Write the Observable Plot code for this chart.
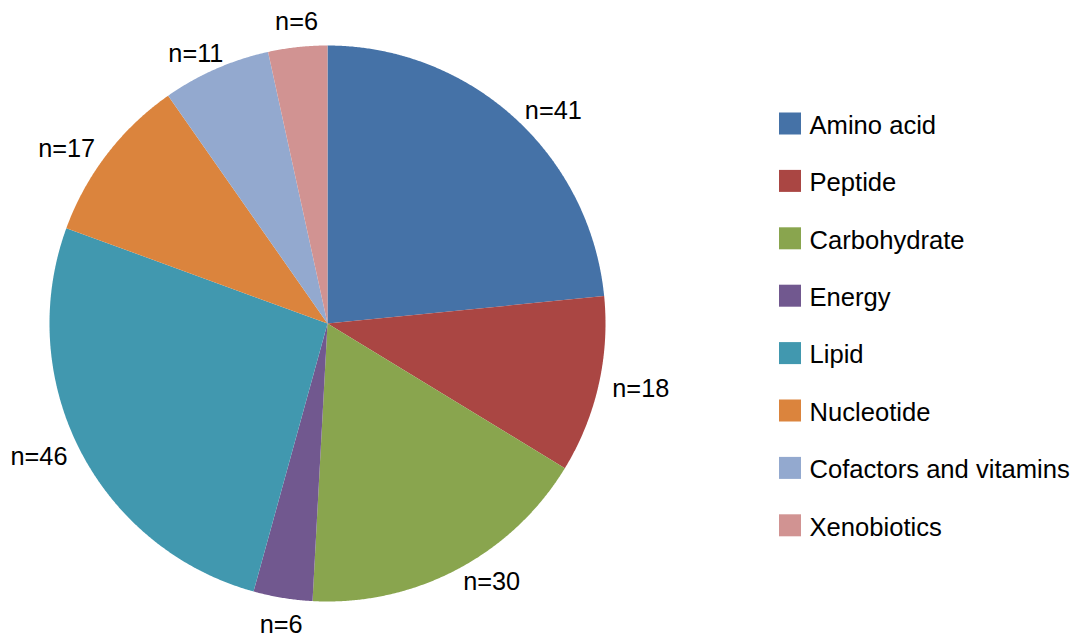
<!DOCTYPE html>
<html>
<head>
<meta charset="utf-8">
<script src="https://cdn.jsdelivr.net/npm/d3@7"></script>
<script src="https://cdn.jsdelivr.net/npm/@observablehq/plot@0.6"></script>
<style>
  html, body { margin: 0; padding: 0; background: #fff; }
  #chart svg { display: block; }
</style>
</head>
<body>
<div id="chart"></div>
<script>
// ---- Data ----
const categories = ["Amino acid", "Peptide", "Carbohydrate", "Energy", "Lipid", "Nucleotide", "Cofactors and vitamins", "Xenobiotics"];
const counts = [41, 18, 30, 6, 46, 17, 11, 6];
const colors = ["#4572A7", "#AA4643", "#89A54E", "#71588F", "#4198AF", "#DB843D", "#93A9CF", "#D19392"];

// ---- Layout ----
const W = 1073, H = 636;
const cx = 327, cy = 323, r = 278;
const fontFamily = "'Liberation Sans', Arial, Helvetica, sans-serif";
const fontSize = 25.3;

const pie = d3.pie().sort(null).value(d => d)(counts);

// slice polygons (in pixel-like data space)
const slicePts = [];
pie.forEach((p, i) => {
  const name = categories[i];
  slicePts.push({name, x: cx, y: cy});
  const n = Math.max(2, Math.ceil((p.endAngle - p.startAngle) / 0.005));
  for (let k = 0; k <= n; k++) {
    const a = p.startAngle + (p.endAngle - p.startAngle) * k / n;
    slicePts.push({name, x: cx + r * Math.sin(a), y: cy - r * Math.cos(a)});
  }
  slicePts.push({name, x: cx, y: cy});
});

// label positions: anchor on the bisector just outside the rim, box pushed outward
const ctx = document.createElement("canvas").getContext("2d");
ctx.font = `${fontSize}px ${fontFamily}`;
const smooth = (t) => { t = Math.max(0, Math.min(1, t)); return t * t * (3 - 2 * t); };
const labels = pie.map((p, i) => {
  const a = (p.startAngle + p.endAngle) / 2;
  const s = Math.sin(a), c = -Math.cos(a);
  const text = "n=" + counts[i];
  const w = ctx.measureText(text).width;
  const R = r + 10;
  const ox = Math.sign(s) * (w / 2 + 4) * smooth((Math.abs(s) - 0.3) / 0.2);
  const oy = Math.sign(c) * 16.5 * smooth((Math.abs(c) - 0.85) / 0.15);
  return {text, x: cx + R * s + ox, y: cy + R * c + oy + 1};
});

// legend
const legX = 779, legSize = 22, legY0 = 123.5, legStep = 57.4;
const legend = categories.map((name, i) => ({
  name,
  x1: legX, x2: legX + legSize,
  y1: legY0 + i * legStep - legSize / 2, y2: legY0 + i * legStep + legSize / 2,
  tx: legX + legSize + 8, ty: legY0 + i * legStep + 1.5
}));

const chart = Plot.plot({
  width: W,
  height: H,
  margin: 0,
  style: {background: "#fff", fontFamily, color: "#000"},
  x: {domain: [0, W], range: [0, W], axis: null},
  y: {domain: [0, H], range: [0, H], axis: null},
  color: {domain: categories, range: colors},
  marks: [
    Plot.line(slicePts, {x: "x", y: "y", z: "name", fill: "name", stroke: "none", curve: "linear"}),
    Plot.text(labels, {x: "x", y: "y", text: "text", fontSize, fill: "#000", textAnchor: "middle"}),
    Plot.rect(legend, {x1: "x1", x2: "x2", y1: "y1", y2: "y2", fill: "name"}),
    Plot.text(legend, {x: "tx", y: "ty", text: "name", fontSize: 25.6, fill: "#000", textAnchor: "start"})
  ]
});
document.getElementById("chart").appendChild(chart);
</script>
</body>
</html>
